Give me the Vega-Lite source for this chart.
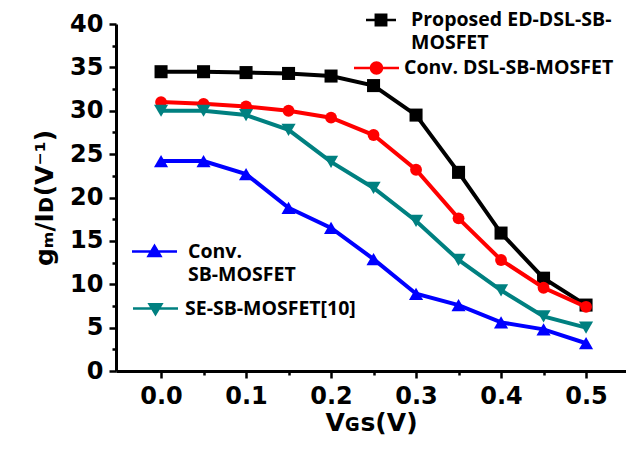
{
  "$schema": "https://vega.github.io/schema/vega-lite/v6.json",
  "autosize": "none",
  "width": 510,
  "height": 347,
  "padding": {"left": 116, "top": 24, "right": 0, "bottom": 78},
  "background": "white",
  "config": {
    "view": {"stroke": null},
    "style": {"guide-label": {"lineHeight": 23}},
    "axis": {"grid": false, "domainColor": "black", "domainWidth": 3, "tickColor": "black", "tickWidth": 2.5,
      "labelFont": "DejaVu Sans", "labelFontWeight": "bold", "labelFontSize": 24, "labelColor": "black",
      "titleFont": "DejaVu Sans", "titleFontWeight": "bold", "titleFontSize": 25, "titleColor": "black"},
    "legend": {"orient": "none", "padding": 0, "labelFont": "Open Sans", "labelFontWeight": "bold", "labelFontSize": 19.5, "labelColor": "black", "labelOffset": 8, "labelLimit": 400}
  },
  "data": {"values": [
    {"s": "Proposed ED-DSL-SB-MOSFET", "x": 0.0, "y": 34.5},
    {"s": "Proposed ED-DSL-SB-MOSFET", "x": 0.05, "y": 34.5},
    {"s": "Proposed ED-DSL-SB-MOSFET", "x": 0.1, "y": 34.4},
    {"s": "Proposed ED-DSL-SB-MOSFET", "x": 0.15, "y": 34.3},
    {"s": "Proposed ED-DSL-SB-MOSFET", "x": 0.2, "y": 34.0},
    {"s": "Proposed ED-DSL-SB-MOSFET", "x": 0.25, "y": 32.9},
    {"s": "Proposed ED-DSL-SB-MOSFET", "x": 0.3, "y": 29.5},
    {"s": "Proposed ED-DSL-SB-MOSFET", "x": 0.35, "y": 22.9},
    {"s": "Proposed ED-DSL-SB-MOSFET", "x": 0.4, "y": 15.9},
    {"s": "Proposed ED-DSL-SB-MOSFET", "x": 0.45, "y": 10.7},
    {"s": "Proposed ED-DSL-SB-MOSFET", "x": 0.5, "y": 7.6},
    {"s": "Conv. DSL-SB-MOSFET", "x": 0.0, "y": 31.0},
    {"s": "Conv. DSL-SB-MOSFET", "x": 0.05, "y": 30.8},
    {"s": "Conv. DSL-SB-MOSFET", "x": 0.1, "y": 30.5},
    {"s": "Conv. DSL-SB-MOSFET", "x": 0.15, "y": 30.0},
    {"s": "Conv. DSL-SB-MOSFET", "x": 0.2, "y": 29.2},
    {"s": "Conv. DSL-SB-MOSFET", "x": 0.25, "y": 27.2},
    {"s": "Conv. DSL-SB-MOSFET", "x": 0.3, "y": 23.2},
    {"s": "Conv. DSL-SB-MOSFET", "x": 0.35, "y": 17.6},
    {"s": "Conv. DSL-SB-MOSFET", "x": 0.4, "y": 12.8},
    {"s": "Conv. DSL-SB-MOSFET", "x": 0.45, "y": 9.6},
    {"s": "Conv. DSL-SB-MOSFET", "x": 0.5, "y": 7.4},
    {"s": "SE-SB-MOSFET[10]", "x": 0.0, "y": 30.0},
    {"s": "SE-SB-MOSFET[10]", "x": 0.05, "y": 30.0},
    {"s": "SE-SB-MOSFET[10]", "x": 0.1, "y": 29.5},
    {"s": "SE-SB-MOSFET[10]", "x": 0.15, "y": 27.8},
    {"s": "SE-SB-MOSFET[10]", "x": 0.2, "y": 24.1},
    {"s": "SE-SB-MOSFET[10]", "x": 0.25, "y": 21.1},
    {"s": "SE-SB-MOSFET[10]", "x": 0.3, "y": 17.3},
    {"s": "SE-SB-MOSFET[10]", "x": 0.35, "y": 12.8},
    {"s": "SE-SB-MOSFET[10]", "x": 0.4, "y": 9.3},
    {"s": "SE-SB-MOSFET[10]", "x": 0.45, "y": 6.3},
    {"s": "SE-SB-MOSFET[10]", "x": 0.5, "y": 5.0},
    {"s": "Conv. SB-MOSFET", "x": 0.0, "y": 24.2},
    {"s": "Conv. SB-MOSFET", "x": 0.05, "y": 24.2},
    {"s": "Conv. SB-MOSFET", "x": 0.1, "y": 22.7},
    {"s": "Conv. SB-MOSFET", "x": 0.15, "y": 18.8},
    {"s": "Conv. SB-MOSFET", "x": 0.2, "y": 16.5},
    {"s": "Conv. SB-MOSFET", "x": 0.25, "y": 12.9},
    {"s": "Conv. SB-MOSFET", "x": 0.3, "y": 8.9},
    {"s": "Conv. SB-MOSFET", "x": 0.35, "y": 7.6},
    {"s": "Conv. SB-MOSFET", "x": 0.4, "y": 5.6},
    {"s": "Conv. SB-MOSFET", "x": 0.45, "y": 4.8},
    {"s": "Conv. SB-MOSFET", "x": 0.5, "y": 3.2}
  ]},
  "encoding": {
    "x": {"field": "x", "type": "quantitative", "scale": {"domain": [-0.053, 0.547], "nice": false, "zero": false},
      "axis": {"title": "Vɢꜱ(V)", "values": [0, 0.05, 0.1, 0.15, 0.2, 0.25, 0.3, 0.35, 0.4, 0.45, 0.5],
        "labelExpr": "round(datum.value*100) % 10 == 0 ? format(datum.value, '.1f') : ''",
        "tickSize": {"condition": {"test": "round(datum.value*100) % 10 == 0", "value": 7}, "value": 4},
        "labelPadding": 6, "titlePadding": 2}},
    "y": {"field": "y", "type": "quantitative", "scale": {"domain": [0, 40], "nice": false},
      "axis": {"title": "gₘ/Iᴅ(V⁻¹)", "values": [0, 2.5, 5, 7.5, 10, 12.5, 15, 17.5, 20, 22.5, 25, 27.5, 30, 32.5, 35, 37.5, 40],
        "labelExpr": "datum.value % 5 == 0 ? datum.label : ''",
        "tickSize": {"condition": {"test": "datum.value % 5 == 0", "value": 7}, "value": 4},
        "labelPadding": 6, "titlePadding": 12}}
  },
  "layer": [
    {
      "transform": [{"filter": "datum.s == 'Proposed ED-DSL-SB-MOSFET'"}],
      "layer": [
        {"mark": {"type": "line", "color": "black", "strokeWidth": 4}, "encoding": {}},
        {"mark": {"type": "point", "shape": "square", "filled": true, "opacity": 1, "size": 170},
          "encoding": {"color": {"field": "s", "type": "nominal", "scale": {"domain": ["Proposed ED-DSL-SB-MOSFET"], "range": ["black"]},
            "legend": {"title": null, "legendX": 249, "legendY": -20, "symbolSize": 900, "labelOffset": 14,
              "symbolType": "M-1,-0.09H1V0.09H-1Z M-0.43,-0.43H0.43V0.43H-0.43Z",
              "labelExpr": "['Proposed ED-DSL-SB-', 'MOSFET']"}}}}
      ]
    },
    {
      "transform": [{"filter": "datum.s == 'Conv. DSL-SB-MOSFET'"}],
      "layer": [
        {"mark": {"type": "line", "color": "#ff0000", "strokeWidth": 4}, "encoding": {}},
        {"mark": {"type": "point", "shape": "circle", "filled": true, "opacity": 1, "size": 140},
          "encoding": {"color": {"field": "s", "type": "nominal", "scale": {"domain": ["Conv. DSL-SB-MOSFET"], "range": ["#ff0000"]},
            "legend": {"title": null, "legendX": 237, "legendY": 20.5, "symbolSize": 2025, "labelOffset": 4,
              "symbolType": "M-1,-0.06H1V0.06H-1Z M0.3,0A0.3,0.3 0 1,1 -0.3,0A0.3,0.3 0 1,1 0.3,0Z"}}}}
      ]
    },
    {
      "transform": [{"filter": "datum.s == 'SE-SB-MOSFET[10]'"}],
      "layer": [
        {"mark": {"type": "line", "color": "#008080", "strokeWidth": 4}, "encoding": {}},
        {"mark": {"type": "point", "shape": "triangle-down", "filled": true, "opacity": 1, "size": 200},
          "encoding": {"color": {"field": "s", "type": "nominal", "scale": {"domain": ["SE-SB-MOSFET[10]"], "range": ["#008080"]},
            "legend": {"title": null, "legendX": 16, "legendY": 261, "symbolSize": 2025, "labelOffset": 6,
              "symbolType": "M-1,-0.06H1V0.06H-1Z M-0.36,-0.25L0.36,-0.25L0,0.36Z"}}}}
      ]
    },
    {
      "transform": [{"filter": "datum.s == 'Conv. SB-MOSFET'"}],
      "layer": [
        {"mark": {"type": "line", "color": "#0000ff", "strokeWidth": 4}, "encoding": {}},
        {"mark": {"type": "point", "shape": "triangle-up", "filled": true, "opacity": 1, "size": 200},
          "encoding": {"color": {"field": "s", "type": "nominal", "scale": {"domain": ["Conv. SB-MOSFET"], "range": ["#0000ff"]},
            "legend": {"title": null, "legendX": 15, "legendY": 204, "symbolSize": 2025, "labelOffset": 10,
              "symbolType": "M-1,-0.06H1V0.06H-1Z M0,-0.36L0.36,0.25L-0.36,0.25Z",
              "labelExpr": "['Conv.', 'SB-MOSFET']"}}}}
      ]
    }
  ],
  "resolve": {"scale": {"color": "independent"}}
}
